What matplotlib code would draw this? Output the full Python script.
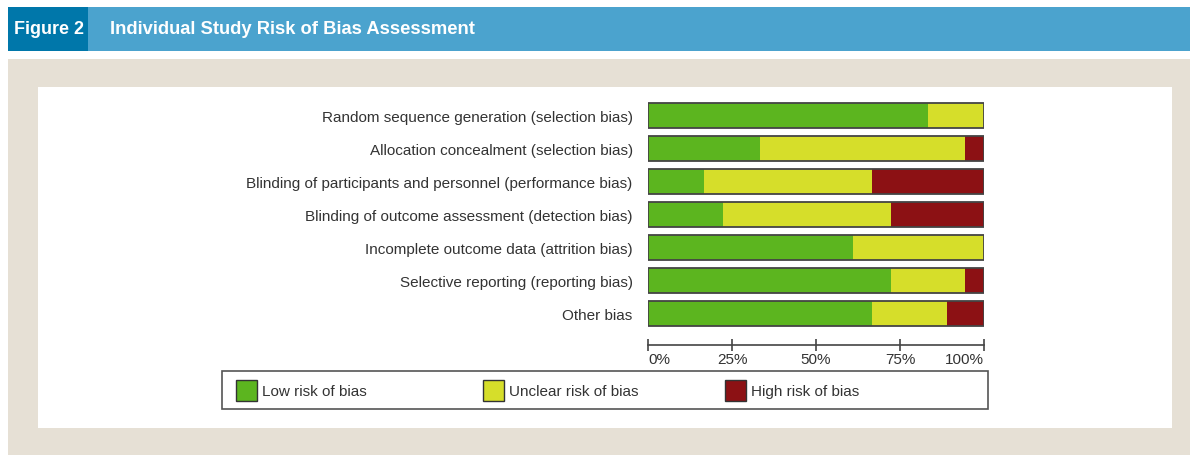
import matplotlib.pyplot as plt
from matplotlib.patches import Rectangle
import numpy as np

# domains, top to bottom
domains = ['Random sequence generation (selection bias)',
           'Allocation concealment (selection bias)',
           'Blinding of participants and personnel (performance bias)',
           'Blinding of outcome assessment (detection bias)',
           'Incomplete outcome data (attrition bias)',
           'Selective reporting (reporting bias)',
           'Other bias']
# percentage of studies per judgement
low = [83.3, 33.3, 16.7, 22.2, 61.1, 72.2, 66.7]
unclear = [16.7, 61.1, 50.0, 50.0, 38.9, 22.2, 22.2]
high = [0.0, 5.6, 33.3, 27.8, 0.0, 5.6, 11.1]
tick_vals = [0, 25, 50, 75, 100]
tick_labels = ['0%', '25%', '50%', '75%', '100%']
legend_labels = ['Low risk of bias', 'Unclear risk of bias', 'High risk of bias']

c_low = '#5cb51f'
c_unclear = '#d6de2a'
c_high = '#8c1114'
txt_font = 'Liberation Sans'
txt_col = '#333333'

W, H = 1197, 456
fig = plt.figure(figsize=(W / 100, H / 100), dpi=100)
fig.patch.set_facecolor('white')

def px_rect(x0, y0, x1, y1, color, edge='none', lw=0, z=-10):
    # rectangle given in pixels from top-left corner
    r = Rectangle((x0 / W, 1 - y1 / H), (x1 - x0) / W, (y1 - y0) / H,
                  transform=fig.transFigure, facecolor=color, edgecolor=edge,
                  linewidth=lw, zorder=z)
    fig.patches.append(r)

# header band
px_rect(8, 8, 1190, 52, '#4ba3ce')
px_rect(8, 8, 88, 52, '#0077aa')
fig.text(14 / W, 1 - 30 / H, 'Figure 2', color='white', fontsize=13, fontweight='bold',
         family=txt_font, va='center', ha='left')
fig.text(110 / W, 1 - 30 / H, 'Individual Study Risk of Bias Assessment', color='white',
         fontsize=13.2, fontweight='bold', family=txt_font, va='center', ha='left')

# beige background and white panel
px_rect(8, 60, 1190, 456, '#e6e0d5')
px_rect(38, 88, 1172, 429, 'white')

# bar axes
ax = fig.add_axes([648 / W, 1 - 331 / H, 336 / W, 231 / H])
ax.set_facecolor('none')
y = np.arange(len(domains))
low = np.array(low)
unclear = np.array(unclear)
high = np.array(high)
ax.barh(y, low, height=0.75, color=c_low, edgecolor='none')
ax.barh(y, unclear, left=low, height=0.75, color=c_unclear, edgecolor='none')
ax.barh(y, high, left=low + unclear, height=0.75, color=c_high, edgecolor='none')
ax.barh(y, [100] * len(y), height=0.75, fill=False, edgecolor='#444444', linewidth=1.3)
ax.set_xlim(0, 100)
ax.set_ylim(len(domains) - 0.5, -0.5)

ax.set_yticks(y)
ax.set_yticklabels(domains, fontsize=11, family=txt_font, color=txt_col)
ax.tick_params(axis='y', length=0, pad=11)

for s in ['top', 'right', 'left']:
    ax.spines[s].set_visible(False)
ax.spines['bottom'].set_position(('outward', 11))
ax.spines['bottom'].set_color('#444444')
ax.spines['bottom'].set_linewidth(1.2)
ax.set_xticks(tick_vals)
ax.set_xticklabels(tick_labels, fontsize=11, family=txt_font, color=txt_col)
ax.tick_params(axis='x', direction='inout', length=8, width=1.2, color='#444444', pad=1)
labs = ax.get_xticklabels()
labs[0].set_ha('left')
labs[-1].set_ha('right')

# legend box drawn by hand
px_rect(222, 372, 988, 410, 'white', edge='#555555', lw=1.2, z=-5)
leg_x = [236, 483, 725]
for xs, c, lab in zip(leg_x, [c_low, c_unclear, c_high], legend_labels):
    px_rect(xs, 381, xs + 21, 402, c, edge='#333333', lw=1, z=-4)
    fig.text((xs + 26) / W, 1 - 392 / H, lab, fontsize=11, family=txt_font,
             color=txt_col, va='center', ha='left')

fig.savefig('out.png', dpi=100)
